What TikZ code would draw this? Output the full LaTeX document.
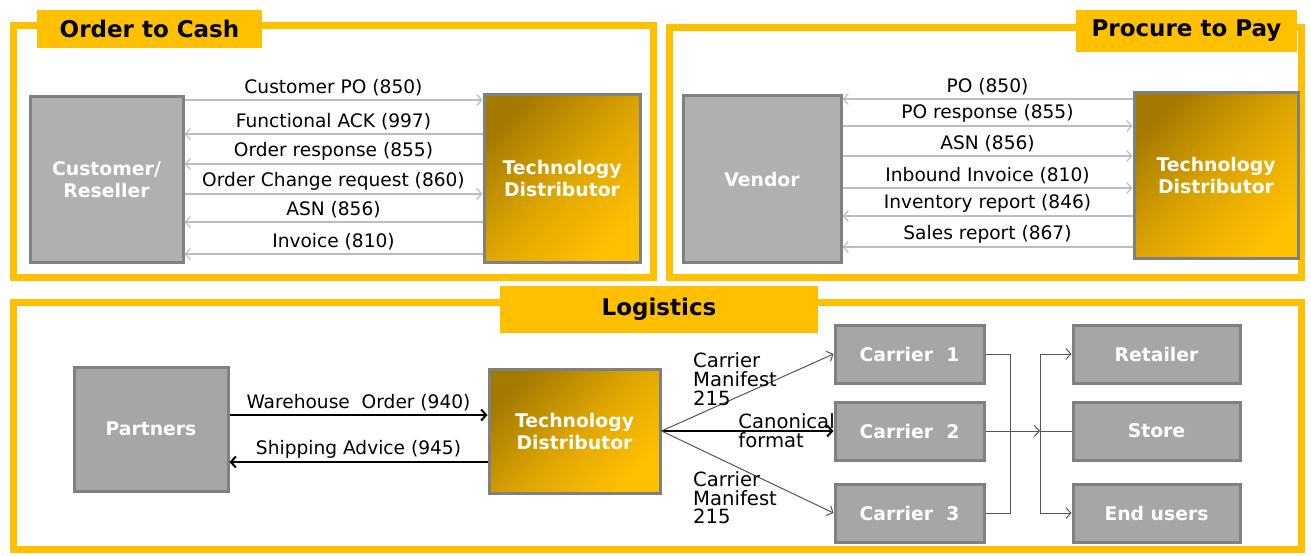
\documentclass[tikz,border=0pt]{standalone}
\usepackage{fontspec}
\setmainfont{DejaVu Sans}
\usetikzlibrary{positioning,arrows.meta,calc}
\definecolor{gold}{HTML}{FFC000}
\definecolor{golddk}{HTML}{A57A00}
\definecolor{goldmd}{HTML}{DCA400}
\definecolor{boxgray}{HTML}{B0B0B0}
\definecolor{boxgrayb}{HTML}{A6A6A6}
\definecolor{boxline}{HTML}{808080}
\definecolor{msgline}{HTML}{BDBDBD}
\definecolor{lnkline}{HTML}{555555}
\tikzset{
  frm/.style={draw=gold,line width=3.5pt},
  ttl/.style={fill=gold,text=black,inner sep=0pt,font=\fontsize{11.5}{13}\selectfont\bfseries},
  gbx/.style={draw=boxline,fill=boxgray,line width=1.5pt,align=center,text=white,font=\fontsize{9.4}{11}\selectfont\bfseries},
  tdb/.style={draw=boxline,line width=1.5pt,top color=golddk,bottom color=gold,middle color=goldmd,shading angle=45,align=center,text=white,font=\fontsize{9.4}{11}\selectfont\bfseries},
  msg/.style={draw=msgline,line width=0.6pt,-{Straight Barb[length=2.5pt,width=5.5pt]}},
  big/.style={draw=black,line width=1pt,-{Straight Barb[length=2.5pt,width=5.5pt]}},
  lnk/.style={draw=lnkline,line width=0.5pt},
  lnka/.style={lnk,-{Straight Barb[length=2.5pt,width=5.5pt]}},
  lbl/.style={above,inner sep=1.5pt,text=black,font=\fontsize{9.3}{11}\selectfont},
  mnf/.style={align=left,inner sep=1pt,text=black,font=\fontsize{9.8}{9.4}\selectfont},
}
\begin{document}
\begin{tikzpicture}[x=0.5pt,y=-0.5pt]
  \useasboundingbox (0,0) rectangle (1311,556);
  \draw[frm] (13.5,25.5) rectangle (653.5,277.5);
  \draw[frm] (669.5,27.5) rectangle (1301.5,277.5);
  \draw[frm] (13.5,302.5) rectangle (1301.5,549.5);
  \node[ttl,minimum width=112.5pt,minimum height=19pt] (otc) at (149.5,29) {Order to Cash};
  \node[ttl,minimum width=110.5pt,minimum height=21pt] (ptp) at (1186.5,31) {Procure to Pay};
  \node[ttl,minimum width=159pt,minimum height=23.5pt] (logi) at (659,309.5) {Logistics};

  \node[gbx,minimum width=76.5pt,minimum height=82.5pt] (cust) at (106.5,179.5) {Customer/\\Reseller};
  \node[tdb,minimum width=78pt,minimum height=83.5pt] (td1) at (562,178.5) {Technology\\Distributor};
  \foreach \yy/\txt in {100/Customer PO (850),194/Order Change request (860)}
    \draw[msg] (cust.east |- 0,\yy) -- node[lbl]{\txt} (td1.west |- 0,\yy);
  \foreach \yy/\txt in {134/Functional ACK (997),164/Order response (855),222/ASN (856),254/Invoice (810)}
    \draw[msg] (td1.west |- 0,\yy) -- node[lbl]{\txt} (cust.east |- 0,\yy);

  \node[gbx,minimum width=79pt,minimum height=83pt] (vend) at (762,179) {Vendor};
  \node[tdb,minimum width=82pt,minimum height=82.5pt] (td2) at (1216,175.5) {Technology\\Distributor};
  \foreach \yy/\txt in {126/PO response (855),156/ASN (856),188/Inbound Invoice (810)}
    \draw[msg] (vend.east |- 0,\yy) -- node[lbl]{\txt} (td2.west |- 0,\yy);
  \foreach \yy/\txt in {99/PO (850),216/Inventory report (846),247/Sales report (867)}
    \draw[msg] (td2.west |- 0,\yy) -- node[lbl]{\txt} (vend.east |- 0,\yy);

  \node[gbx,fill=boxgrayb,minimum width=77pt,minimum height=62pt] (part) at (151,429) {Partners};
  \node[tdb,minimum width=85.5pt,minimum height=62pt] (td3) at (574.5,431) {Technology\\Distributor};
  \draw[big] (part.east |- 0,415) -- node[lbl]{Warehouse\ \ Order (940)} (td3.west |- 0,415);
  \draw[big] (td3.west |- 0,462) -- node[lbl]{Shipping Advice (945)} (part.east |- 0,462);

  \node[gbx,fill=boxgrayb,minimum width=74.5pt,minimum height=29pt] (car1) at (909.5,354) {Carrier\ \ 1};
  \node[gbx,fill=boxgrayb,minimum width=74.5pt,minimum height=29pt] (car2) at (909.5,431) {Carrier\ \ 2};
  \node[gbx,fill=boxgrayb,minimum width=74.5pt,minimum height=29pt] (car3) at (909.5,513) {Carrier\ \ 3};
  \node[gbx,fill=boxgrayb,minimum width=83.5pt,minimum height=29pt] (ret) at (1156.5,354) {Retailer};
  \node[gbx,fill=boxgrayb,minimum width=83.5pt,minimum height=29pt] (store) at (1156.5,431) {Store};
  \node[gbx,fill=boxgrayb,minimum width=83.5pt,minimum height=29pt] (endu) at (1156.5,513) {End users};

  \draw[lnka] (td3.east) -- node[mnf,pos=0.17,anchor=south west,yshift=5pt]{Carrier\\Manifest\\215} (car1.west);
  \draw[big] (td3.east) -- node[mnf,pos=0.43,anchor=west]{Canonical\\format} (car2.west);
  \draw[lnka] (td3.east) -- node[mnf,pos=0.17,anchor=north west,yshift=-12pt]{Carrier\\Manifest\\215} (car3.west);

  \coordinate (hub) at (1040,431);
  \draw[lnk] (car1.east) -- ++(25,0) |- (car3.east);
  \draw[lnka] (car2.east) -- (hub);
  \draw[lnk] (hub) -- (store.west);
  \draw[lnka] (hub) |- (ret.west);
  \draw[lnka] (hub) |- (endu.west);
\end{tikzpicture}
\end{document}
